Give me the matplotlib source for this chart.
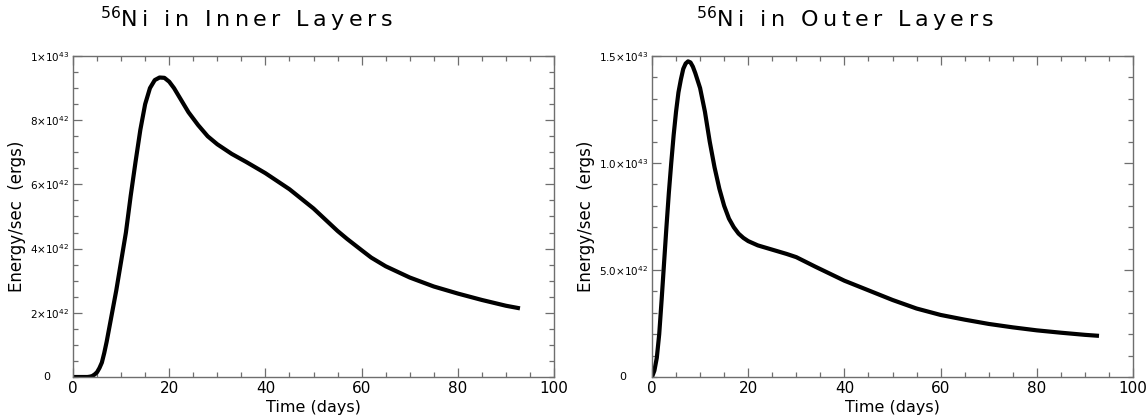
import matplotlib
matplotlib.use("Agg")
import matplotlib.pyplot as plt
from matplotlib.ticker import MultipleLocator, FixedLocator, FixedFormatter

# Energy deposition curves (units of 1e42 erg/s) vs time (days)
t_inner = [0, 3, 3.5, 4, 4.5, 5, 5.5, 6, 6.5, 7, 7.5, 8, 9, 10, 11, 12, 13, 14,
           15, 16, 17, 18, 19, 20, 21, 22, 23, 24, 26, 28, 30, 33, 36, 40, 45,
           50, 55, 57, 60, 62, 65, 70, 75, 80, 85, 90, 92.5]
e_inner = [0, 0, 0.01, 0.03, 0.08, 0.15, 0.28, 0.45, 0.75, 1.1, 1.5, 1.9, 2.7,
           3.6, 4.5, 5.65, 6.7, 7.7, 8.5, 9.0, 9.25, 9.33, 9.32, 9.2, 9.0,
           8.75, 8.5, 8.25, 7.85, 7.5, 7.25, 6.95, 6.7, 6.35, 5.85, 5.25, 4.55,
           4.3, 3.95, 3.72, 3.45, 3.1, 2.82, 2.6, 2.4, 2.22, 2.15]

t_outer = [0, 0.5, 1, 1.5, 2, 2.5, 3, 3.5, 4, 4.5, 5, 5.5, 6, 6.5, 7, 7.5, 8,
           8.5, 9, 10, 11, 12, 13, 14, 15, 16, 17, 18, 19, 20, 22, 25, 28, 30,
           34, 40, 45, 50, 55, 60, 65, 70, 75, 80, 85, 90, 92.5]
e_outer = [0, 0.3, 0.9, 2.0, 3.6, 5.3, 7.0, 8.6, 10.0, 11.3, 12.4, 13.3, 13.9,
           14.4, 14.65, 14.75, 14.7, 14.5, 14.2, 13.5, 12.4, 11.0, 9.8, 8.8,
           8.0, 7.4, 7.0, 6.7, 6.5, 6.35, 6.15, 5.95, 5.75, 5.6, 5.15, 4.5,
           4.05, 3.6, 3.2, 2.9, 2.68, 2.48, 2.32, 2.18, 2.07, 1.97, 1.93]

scale = 1e42

inner_ticks = [2e42, 4e42, 6e42, 8e42, 1e43]
inner_labels = ["2×10$^{42}$", "4×10$^{42}$", "6×10$^{42}$",
                "8×10$^{42}$", "1×10$^{43}$"]
outer_ticks = [5e42, 1e43, 1.5e43]
outer_labels = ["5.0×10$^{42}$", "1.0×10$^{43}$", "1.5×10$^{43}$"]

titles = ["Ni in Inner Layers", "Ni in Outer Layers"]

SPINE = "#6e6e6e"
plt.rcParams["mathtext.fontset"] = "dejavusans"

fig = plt.figure(figsize=(11.48, 4.19), dpi=100)
ax1 = fig.add_axes([73 / 1148, 1 - 377 / 419, 481 / 1148, 321 / 419])
ax2 = fig.add_axes([652 / 1148, 1 - 377 / 419, 481 / 1148, 321 / 419])


def spaced(s):
    return "\u2009".join(s)


def style(ax, ymax, yminor, ticks, labels, zero_dx):
    ax.set_xlim(0, 100)
    ax.set_ylim(0, ymax)
    ax.xaxis.set_major_locator(MultipleLocator(20))
    ax.xaxis.set_minor_locator(MultipleLocator(5))
    ax.yaxis.set_major_locator(FixedLocator(ticks))
    ax.yaxis.set_major_formatter(FixedFormatter(labels))
    ax.yaxis.set_minor_locator(MultipleLocator(yminor))
    for s in ax.spines.values():
        s.set_color(SPINE)
        s.set_linewidth(1.0)
    ax.tick_params(which="both", direction="in", top=True, right=True,
                   color=SPINE, width=0.9)
    ax.tick_params(which="major", length=6.5)
    ax.tick_params(which="minor", length=3.6)
    ax.tick_params(axis="x", labelsize=11, pad=3)
    ax.tick_params(axis="y", labelsize=7.5, pad=3)
    ax.set_xlabel("Time (days)", fontsize=11.5, labelpad=3)
    ax.set_ylabel("Energy/sec  (ergs)", fontsize=12, labelpad=2.5)
    ax.text(zero_dx, 0, "0", transform=ax.get_yaxis_transform(),
            ha="center", va="center", fontsize=8)


ax1.plot(t_inner, [v * scale for v in e_inner], color="black", lw=3,
         solid_joinstyle="round")
style(ax1, 1e43, 5e41, inner_ticks, inner_labels, -0.054)

ax2.plot(t_outer, [v * scale for v in e_outer], color="black", lw=3,
         solid_joinstyle="round")
style(ax2, 1.5e43, 1e42, outer_ticks, outer_labels, -0.060)

fig.text(246 / 1148, 1 - 27 / 419, r"$^{56}$" + spaced(titles[0]),
         ha="center", va="baseline", fontsize=16)
fig.text(845 / 1148, 1 - 27 / 419, r"$^{56}$" + spaced(titles[1]),
         ha="center", va="baseline", fontsize=16)

fig.savefig("out.png", dpi=100)
